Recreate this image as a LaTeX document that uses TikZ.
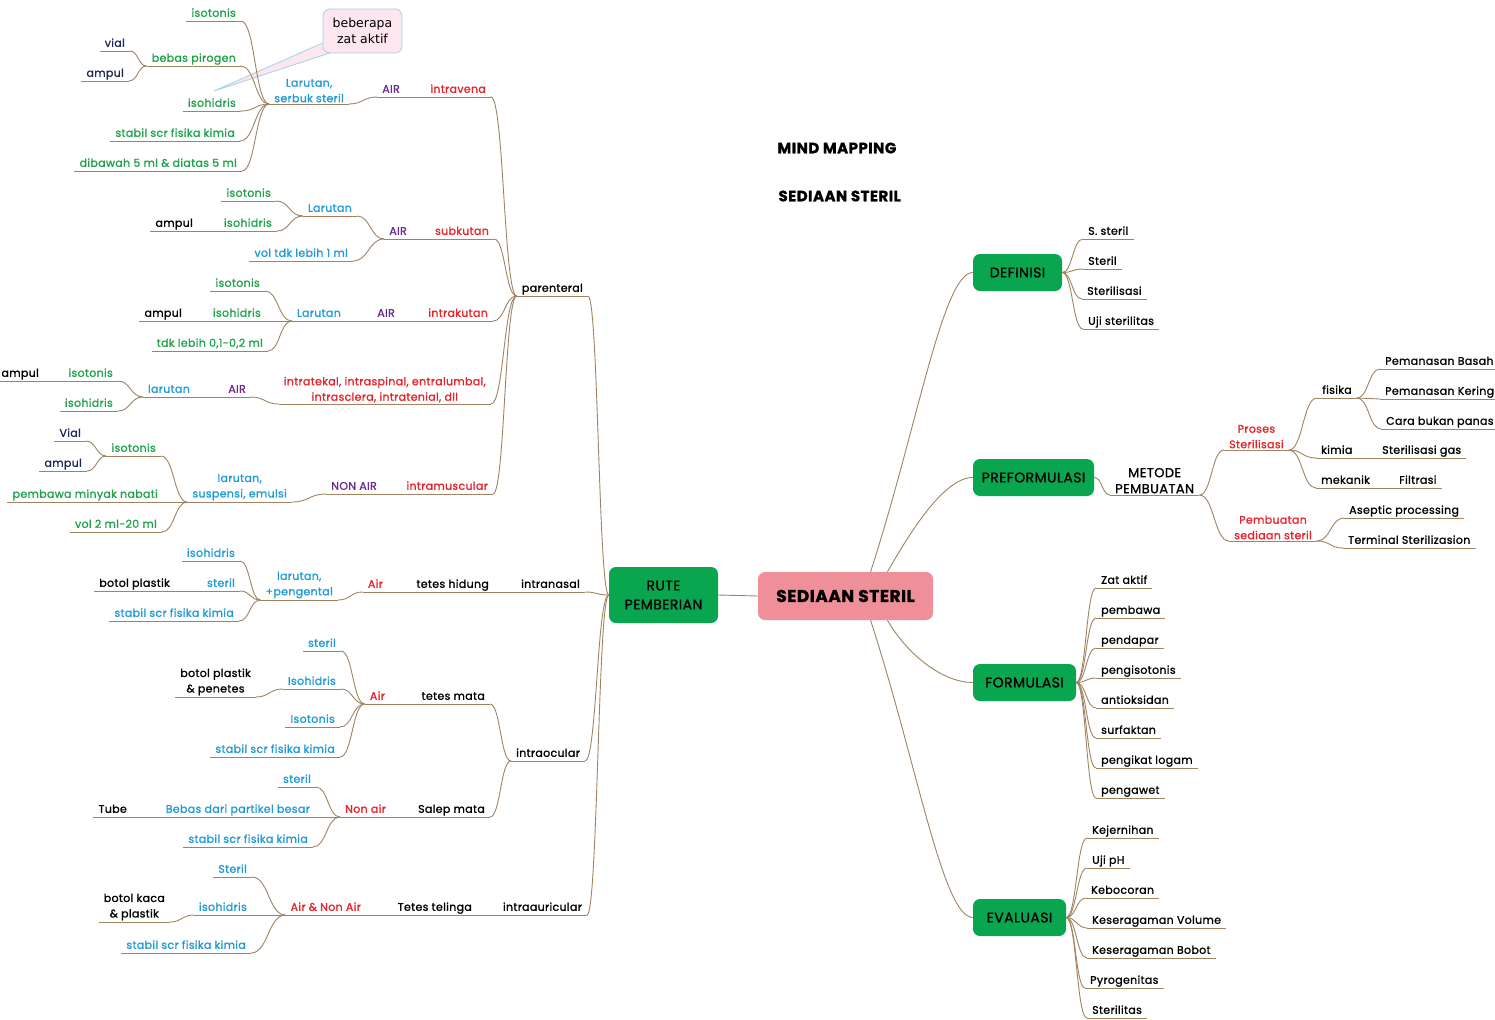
\documentclass[tikz,border=0pt]{standalone}
\usepackage{fontspec}
\setmainfont{Poppins}[FakeBold=1.2, LetterSpace=3]
\newfontfamily\notefont{DejaVu Sans}
\usepackage{tikz}
\usetikzlibrary{calc}
\definecolor{linebrown}{HTML}{A08462}
\definecolor{boxgreen}{HTML}{0AA64F}
\definecolor{corepink}{HTML}{EF8F99}
\definecolor{txtgreen}{HTML}{1FA24A}
\definecolor{txtblue}{HTML}{1E9BD7}
\definecolor{txtred}{HTML}{E6232A}
\definecolor{txtpurple}{HTML}{6A2C91}
\definecolor{txtnavy}{HTML}{1F2A5C}
\definecolor{notefill}{HTML}{FDE6EE}
\definecolor{noteline}{HTML}{9FD4EC}

\begin{document}
\begin{tikzpicture}[x=1pt, y=-1pt,
    link/.style={draw=linebrown, line width=0.9pt},
    br/.style={to path={let \p1=(\tikztostart), \p2=(\tikztotarget) in
      .. controls ({(\x1+\x2)/2},\y1) and ({(\x1+\x2)/2},\y2) .. (\tikztotarget)}},
    topic/.style={font=\fontsize{11}{15.5}\selectfont, inner xsep=5pt, inner ysep=1.5pt, text depth=0.25em,
      append after command={(\tikzlastnode.south west) edge[link] (\tikzlastnode.south east)}},
    lt/.style={topic, anchor=south east},
    rt/.style={topic, anchor=south west},
    two/.style={align=center, text depth={}},
    tg/.style={text=txtgreen}, tb/.style={text=txtblue}, tr/.style={text=txtred},
    tp/.style={text=txtpurple}, tn/.style={text=txtnavy},
    box/.style={rounded corners=7pt, fill=boxgreen, inner sep=0pt, minimum height=37, align=center, font=\fontsize{14}{19}\selectfont},
    core/.style={rounded corners=7pt, fill=corepink, inner sep=0pt, font=\bfseries\fontsize{17}{20}\selectfont},
    heading/.style={anchor=west, font=\bfseries\fontsize{15}{18}\selectfont},
    note/.style={rounded corners=7pt, fill=notefill, draw=noteline, line width=0.8pt, align=center, inner sep=0pt, font=\notefont\fontsize{12.5}{16}\selectfont}
  ]
  \path[use as bounding box, fill=white] (0,0) rectangle (1495,1019);

  % centre and titles
  \node[core, minimum width=175, minimum height=48] (main) at (845.5,596) {SEDIAAN STERIL};
  \node[box, minimum width=109, minimum height=56] (rute) at (663.5,595) {RUTE\\PEMBERIAN};
  \node[heading] (ttl1) at (774,148) {MIND MAPPING};
  \node[heading] (ttl2) at (775,196) {SEDIAAN STERIL};

  % right side boxes
  \node[box, minimum width=89] (defn) at (1017.5,272.5) {DEFINISI};
  \node[box, minimum width=121] (pref) at (1033.5,477.5) {PREFORMULASI};
  \node[box, minimum width=103] (form) at (1024.5,682.5) {FORMULASI};
  \node[box, minimum width=93] (eval) at (1019.5,917.5) {EVALUASI};

  % parenteral
  \node[lt] (par) at (588,296) {parenteral};
  \node[lt, tr] (iv) at (491,97) {intravena};
  \node[lt, tp] (ivair) at (405,97) {AIR};
  \node[lt, tb, two] (ivlar) at (349,104) {Larutan,\\serbuk steril};
  \node[lt, tg] (ivto) at (241,21) {isotonis};
  \node[lt, tg] (ivbp) at (241,66) {bebas pirogen};
  \node[lt, tn] (ivvial) at (130,51) {vial};
  \node[lt, tn] (ivamp) at (129,81) {ampul};
  \node[lt, tg] (ivih) at (241,111) {isohidris};
  \node[lt, tg] (ivst) at (240,141) {stabil scr fisika kimia};
  \node[lt, tg] (ivvol) at (242,171) {dibawah 5 ml \& diatas 5 ml};

  \node[lt, tr] (sc) at (494,239) {subkutan};
  \node[lt, tp] (scair) at (412,239) {AIR};
  \node[lt, tb] (sclar) at (357,216) {Larutan};
  \node[lt, tg] (scto) at (276,201) {isotonis};
  \node[lt, tg] (scih) at (277,231) {isohidris};
  \node[lt] (scamp) at (198,231) {ampul};
  \node[lt, tb] (scvol) at (353,261) {vol tdk lebih 1 ml};

  \node[lt, tr] (ic) at (493,321) {intrakutan};
  \node[lt, tp] (icair) at (400,321) {AIR};
  \node[lt, tb] (iclar) at (346,321) {Larutan};
  \node[lt, tg] (icto) at (265,291) {isotonis};
  \node[lt, tg] (icih) at (266,321) {isohidris};
  \node[lt] (icamp) at (187,321) {ampul};
  \node[lt, tg] (icvol) at (268,351) {tdk lebih 0,1-0,2 ml};

  \node[lt, tr, two] (itk) at (491,404) {intratekal, intraspinal, entralumbal,\\intrasclera, intratenial, dll};
  \node[lt, tp] (itkair) at (251,397) {AIR};
  \node[lt, tb] (itklar) at (195,397) {larutan};
  \node[lt, tg] (itkto) at (118,381) {isotonis};
  \node[lt] (itkamp) at (44,381) {ampul};
  \node[lt, tg] (itkih) at (118,411) {isohidris};

  \node[lt, tr] (im) at (493,494) {intramuscular};
  \node[lt, tp] (imnon) at (382,494) {NON AIR};
  \node[lt, tb, two] (imlar) at (292,502) {larutan,\\suspensi, emulsi};
  \node[lt, tg] (imto) at (161,456) {isotonis};
  \node[lt, tn] (imvial) at (86,441) {Vial};
  \node[lt, tn] (imamp) at (87,471) {ampul};
  \node[lt, tg] (imoil) at (163,502) {pembawa minyak nabati};
  \node[lt, tg] (imvol) at (162,532) {vol 2 ml-20 ml};

  % intranasal
  \node[lt] (nasal) at (585,592) {intranasal};
  \node[lt] (nhid) at (494,592) {tetes hidung};
  \node[lt, tr] (nair) at (388,592) {Air};
  \node[lt, tb, two] (nlar) at (338,600) {larutan,\\+pengental};
  \node[lt, tb] (nih) at (240,561) {isohidris};
  \node[lt, tb] (nst) at (240,591) {steril};
  \node[lt] (nbot) at (175,591) {botol plastik};
  \node[lt, tb] (nstab) at (239,621) {stabil scr fisika kimia};

  % intraocular
  \node[lt] (ocul) at (585,761) {intraocular};
  \node[lt] (omata) at (490,704) {tetes mata};
  \node[lt, tr] (oair) at (390,704) {Air};
  \node[lt, tb] (ost) at (341,651) {steril};
  \node[lt, tb] (oih) at (341,689) {Isohidris};
  \node[lt, two] (obot) at (256,697) {botol plastik\\\& penetes};
  \node[lt, tb] (oto) at (340,727) {Isotonis};
  \node[lt, tb] (ostab) at (340,757) {stabil scr fisika kimia};
  \node[lt] (osalep) at (490,817) {Salep mata};
  \node[lt, tr] (onon) at (391,817) {Non air};
  \node[lt, tb] (sst) at (316,787) {steril};
  \node[lt, tb] (sbes) at (315,817) {Bebas dari partikel besar};
  \node[lt] (stube) at (132,817) {Tube};
  \node[lt, tb] (sstab) at (313,847) {stabil scr fisika kimia};

  % intraauricular
  \node[lt] (auri) at (587,915) {intraauricular};
  \node[lt] (atel) at (477,915) {Tetes telinga};
  \node[lt, tr] (aair) at (366,915) {Air \& Non Air};
  \node[lt, tb] (ast) at (252,877) {Steril};
  \node[lt, tb] (aih) at (252,915) {isohidris};
  \node[lt, two] (abot) at (170,922) {botol kaca\\\& plastik};
  \node[lt, tb] (astab) at (251,953) {stabil scr fisika kimia};

  % note
  \coordinate (tip) at (214,91);
  \filldraw[fill=notefill, draw=noteline, line width=0.8pt] (334,38) -- (tip) -- (348,47) -- cycle;
  \node[note, minimum width=79, minimum height=44] (note) at (362.5,31) {beberapa\\zat aktif};

  % definisi
  \node[rt] (d1) at (1083,239) {S. steril};
  \node[rt] (d2) at (1083,269) {Steril};
  \node[rt] (d3) at (1082,299) {Sterilisasi};
  \node[rt] (d4) at (1083,329) {Uji sterilitas};

  % preformulasi
  \node[rt, two, font=\fontsize{13}{16}\selectfont] (met) at (1110,495) {METODE\\PEMBUATAN};
  \node[rt, tr, two] (pros) at (1224,450) {Proses\\Sterilisasi};
  \node[rt] (fis) at (1317,398) {fisika};
  \node[rt] (pb) at (1380,369) {Pemanasan Basah};
  \node[rt] (pk) at (1380,399) {Pemanasan Kering};
  \node[rt] (cb) at (1381,429) {Cara bukan panas};
  \node[rt] (kim) at (1316,458) {kimia};
  \node[rt] (gas) at (1377,458) {Sterilisasi gas};
  \node[rt] (mek) at (1316,488) {mekanik};
  \node[rt] (fil) at (1394,488) {Filtrasi};
  \node[rt, tr, two] (pemb) at (1229,541) {Pembuatan\\sediaan steril};
  \node[rt] (asep) at (1344,518) {Aseptic processing};
  \node[rt] (term) at (1343,548) {Terminal Sterilizasion};

  % formulasi
  \node[rt] (f1) at (1096,588) {Zat aktif};
  \node[rt] (f2) at (1096,618) {pembawa};
  \node[rt] (f3) at (1096,648) {pendapar};
  \node[rt] (f4) at (1096,678) {pengisotonis};
  \node[rt] (f5) at (1096,708) {antioksidan};
  \node[rt] (f6) at (1096,738) {surfaktan};
  \node[rt] (f7) at (1096,768) {pengikat logam};
  \node[rt] (f8) at (1096,798) {pengawet};

  % evaluasi
  \node[rt] (e1) at (1087,838) {Kejernihan};
  \node[rt] (e2) at (1087,868) {Uji pH};
  \node[rt] (e3) at (1086,898) {Kebocoran};
  \node[rt] (e4) at (1087,928) {Keseragaman Volume};
  \node[rt] (e5) at (1087,958) {Keseragaman Bobot};
  \node[rt] (e6) at (1085,988) {Pyrogenitas};
  \node[rt] (e7) at (1087,1018) {Sterilitas};

  % connectors
  \draw[link] (rute.east) -- (main.west);
  \draw[link] (main.44) to[out=72, in=180, out distance=150, in distance=30] (defn.west);
  \draw[link] (main.30) to[out=60, in=180, out distance=40, in distance=30] (pref.west);
  \draw[link] (main.-30) to[out=-60, in=180, out distance=40, in distance=30] (form.west);
  \draw[link] (main.-44) to[out=-72, in=180, out distance=150, in distance=30] (eval.west);

  \draw[link] (rute.west) to[br] (par.south east);
  \draw[link] (rute.west) to[br] (nasal.south east);
  \draw[link] (rute.west) to[br] (ocul.south east);
  \draw[link] (rute.west) to[br] (auri.south east);

  \draw[link] (par.south west) to[br] (iv.south east);
  \draw[link] (par.south west) to[br] (sc.south east);
  \draw[link] (par.south west) to[br] (ic.south east);
  \draw[link] (par.south west) to[br] (itk.south east);
  \draw[link] (par.south west) to[br] (im.south east);

  \draw[link] (iv.south west) to[br] (ivair.south east);
  \draw[link] (ivair.south west) to[br] (ivlar.south east);
  \draw[link] (ivlar.south west) to[br] (ivto.south east);
  \draw[link] (ivlar.south west) to[br] (ivbp.south east);
  \draw[link] (ivlar.south west) to[br] (ivih.south east);
  \draw[link] (ivlar.south west) to[br] (ivst.south east);
  \draw[link] (ivlar.south west) to[br] (ivvol.south east);
  \draw[link] (ivbp.south west) to[br] (ivvial.south east);
  \draw[link] (ivbp.south west) to[br] (ivamp.south east);

  \draw[link] (sc.south west) to[br] (scair.south east);
  \draw[link] (scair.south west) to[br] (sclar.south east);
  \draw[link] (scair.south west) to[br] (scvol.south east);
  \draw[link] (sclar.south west) to[br] (scto.south east);
  \draw[link] (sclar.south west) to[br] (scih.south east);
  \draw[link] (scih.south west) to[br] (scamp.south east);

  \draw[link] (ic.south west) to[br] (icair.south east);
  \draw[link] (icair.south west) to[br] (iclar.south east);
  \draw[link] (iclar.south west) to[br] (icto.south east);
  \draw[link] (iclar.south west) to[br] (icih.south east);
  \draw[link] (iclar.south west) to[br] (icvol.south east);
  \draw[link] (icih.south west) to[br] (icamp.south east);

  \draw[link] (itk.south west) to[br] (itkair.south east);
  \draw[link] (itkair.south west) to[br] (itklar.south east);
  \draw[link] (itklar.south west) to[br] (itkto.south east);
  \draw[link] (itklar.south west) to[br] (itkih.south east);
  \draw[link] (itkto.south west) to[br] (itkamp.south east);

  \draw[link] (im.south west) to[br] (imnon.south east);
  \draw[link] (imnon.south west) to[br] (imlar.south east);
  \draw[link] (imlar.south west) to[br] (imto.south east);
  \draw[link] (imlar.south west) to[br] (imoil.south east);
  \draw[link] (imlar.south west) to[br] (imvol.south east);
  \draw[link] (imto.south west) to[br] (imvial.south east);
  \draw[link] (imto.south west) to[br] (imamp.south east);

  \draw[link] (nasal.south west) to[br] (nhid.south east);
  \draw[link] (nhid.south west) to[br] (nair.south east);
  \draw[link] (nair.south west) to[br] (nlar.south east);
  \draw[link] (nlar.south west) to[br] (nih.south east);
  \draw[link] (nlar.south west) to[br] (nst.south east);
  \draw[link] (nlar.south west) to[br] (nstab.south east);
  \draw[link] (nst.south west) to[br] (nbot.south east);

  \draw[link] (ocul.south west) to[br] (omata.south east);
  \draw[link] (ocul.south west) to[br] (osalep.south east);
  \draw[link] (omata.south west) to[br] (oair.south east);
  \draw[link] (oair.south west) to[br] (ost.south east);
  \draw[link] (oair.south west) to[br] (oih.south east);
  \draw[link] (oair.south west) to[br] (oto.south east);
  \draw[link] (oair.south west) to[br] (ostab.south east);
  \draw[link] (oih.south west) to[br] (obot.south east);
  \draw[link] (osalep.south west) to[br] (onon.south east);
  \draw[link] (onon.south west) to[br] (sst.south east);
  \draw[link] (onon.south west) to[br] (sbes.south east);
  \draw[link] (onon.south west) to[br] (sstab.south east);
  \draw[link] (sbes.south west) to[br] (stube.south east);

  \draw[link] (auri.south west) to[br] (atel.south east);
  \draw[link] (atel.south west) to[br] (aair.south east);
  \draw[link] (aair.south west) to[br] (ast.south east);
  \draw[link] (aair.south west) to[br] (aih.south east);
  \draw[link] (aair.south west) to[br] (astab.south east);
  \draw[link] (aih.south west) to[br] (abot.south east);

  \draw[link] (defn.east) to[br] (d1.south west);
  \draw[link] (defn.east) to[br] (d2.south west);
  \draw[link] (defn.east) to[br] (d3.south west);
  \draw[link] (defn.east) to[br] (d4.south west);

  \draw[link] (pref.east) to[br] (met.south west);
  \draw[link] (met.south east) to[br] (pros.south west);
  \draw[link] (met.south east) to[br] (pemb.south west);
  \draw[link] (pros.south east) to[br] (fis.south west);
  \draw[link] (pros.south east) to[br] (kim.south west);
  \draw[link] (pros.south east) to[br] (mek.south west);
  \draw[link] (fis.south east) to[br] (pb.south west);
  \draw[link] (fis.south east) to[br] (pk.south west);
  \draw[link] (fis.south east) to[br] (cb.south west);
  \draw[link] (kim.south east) to[br] (gas.south west);
  \draw[link] (mek.south east) to[br] (fil.south west);
  \draw[link] (pemb.south east) to[br] (asep.south west);
  \draw[link] (pemb.south east) to[br] (term.south west);

  \draw[link] (form.east) to[br] (f1.south west);
  \draw[link] (form.east) to[br] (f2.south west);
  \draw[link] (form.east) to[br] (f3.south west);
  \draw[link] (form.east) to[br] (f4.south west);
  \draw[link] (form.east) to[br] (f5.south west);
  \draw[link] (form.east) to[br] (f6.south west);
  \draw[link] (form.east) to[br] (f7.south west);
  \draw[link] (form.east) to[br] (f8.south west);

  \draw[link] (eval.east) to[br] (e1.south west);
  \draw[link] (eval.east) to[br] (e2.south west);
  \draw[link] (eval.east) to[br] (e3.south west);
  \draw[link] (eval.east) to[br] (e4.south west);
  \draw[link] (eval.east) to[br] (e5.south west);
  \draw[link] (eval.east) to[br] (e6.south west);
  \draw[link] (eval.east) to[br] (e7.south west);
\end{tikzpicture}
\end{document}
